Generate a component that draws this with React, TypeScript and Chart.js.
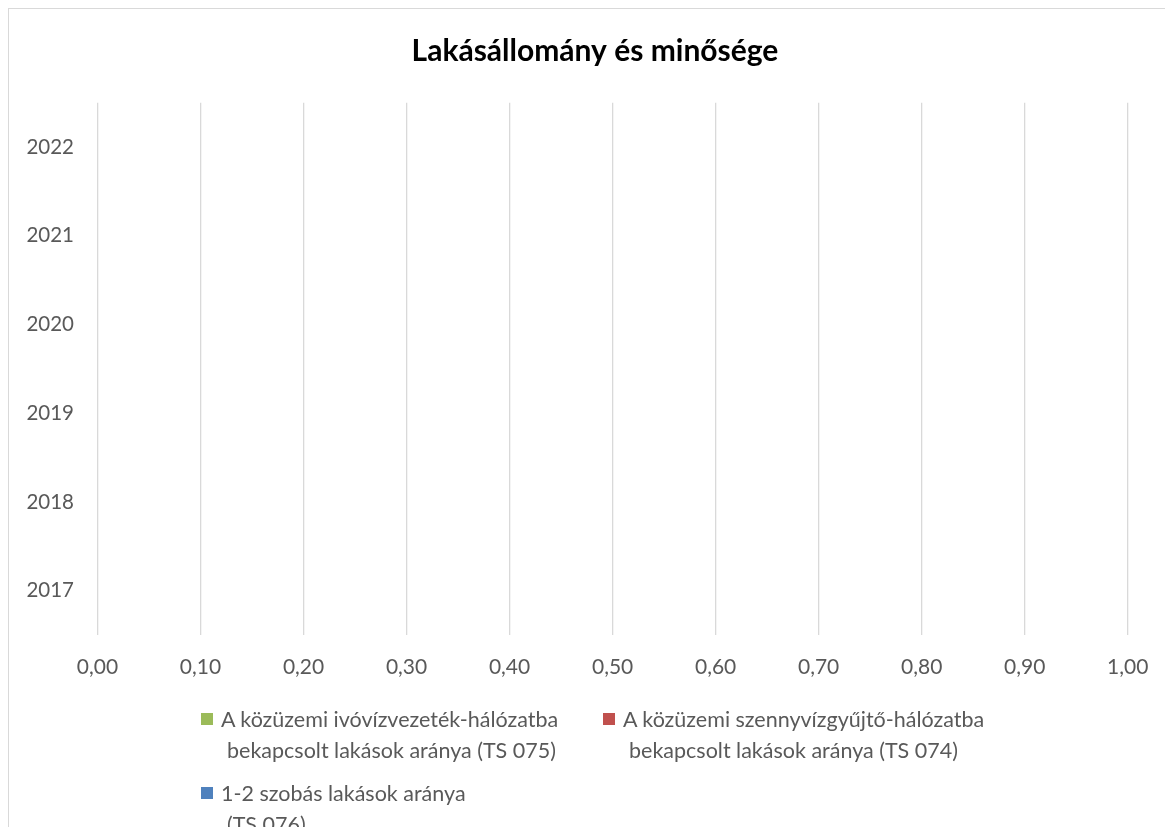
import React, { useEffect, useRef } from "react";
import { Chart, registerables } from "chart.js";

Chart.register(...registerables);

const years = ["2017", "2018", "2019", "2020", "2021", "2022"];
const ivovizValues: (number | null)[] = [null, null, null, null, null, null];
const szennyvizValues: (number | null)[] = [null, null, null, null, null, null];
const szobasValues: (number | null)[] = [null, null, null, null, null, null];

const seriesLabels = [
  ["A közüzemi ivóvízvezeték-hálózatba", "bekapcsolt lakások aránya (TS 075)"],
  ["A közüzemi szennyvízgyűjtő-hálózatba", "bekapcsolt lakások aránya (TS 074)"],
  ["1-2 szobás lakások aránya", "(TS 076)"],
];
const seriesColors = ["#9BBB59", "#C0504D", "#4F81BD"];
const titleText = "Lakásállomány és minősége";
const xMin = 0;
const xMax = 1;
const xStep = 0.1;

const FONT = "Lato, 'Open Sans', sans-serif";
const TEXT = "#595959";

export default function App() {
  const ref = useRef<HTMLCanvasElement | null>(null);

  useEffect(() => {
    if (!ref.current) return;
    const values = [ivovizValues, szennyvizValues, szobasValues];
    const chart = new Chart(ref.current, {
      type: "bar",
      data: {
        labels: years,
        datasets: values.map((v, i) => ({
          label: seriesLabels[i].join(" "),
          data: v,
          backgroundColor: seriesColors[i],
        })),
      },
      options: {
        indexAxis: "y",
        responsive: false,
        animation: false,
        devicePixelRatio: 1,
        layout: { padding: 0 },
        plugins: {
          legend: { display: false },
          tooltip: { enabled: false },
          title: {
            display: true,
            text: titleText,
            color: "#000000",
            font: { family: FONT, size: 30, weight: "bold" },
            padding: { top: 24, bottom: 33.7 },
          },
        },
        scales: {
          x: {
            min: xMin,
            max: xMax,
            ticks: {
              stepSize: xStep,
              color: TEXT,
              font: { family: FONT, size: 21 },
              padding: 20,
              maxRotation: 0,
              autoSkip: false,
              callback: (v: any) => Number(v).toFixed(2).replace(".", ","),
            },
            grid: { color: "#D9D9D9", lineWidth: 1.3, drawTicks: false },
            border: { display: false },
            afterFit: (s: any) => {
              s.height = 192;
            },
          },
          y: {
            reverse: true,
            ticks: {
              color: TEXT,
              font: { family: FONT, size: 20.5 },
              padding: 23.5,
            },
            grid: { display: false, drawTicks: false },
            border: { display: false },
            afterFit: (s: any) => {
              s.width = 88.5;
            },
          },
          yRight: {
            type: "linear",
            position: "right",
            display: true,
            ticks: { display: false },
            grid: { display: false, drawTicks: false },
            border: { display: false },
            afterFit: (s: any) => {
              s.width = 53.3;
            },
          },
        },
      },
    });
    return () => chart.destroy();
  }, []);

  const legendPos = [
    { left: 191.5, top: 695.2 },
    { left: 593.5, top: 695.2 },
    { left: 191.5, top: 768.9 },
  ];

  return (
    <div
      style={{
        position: "fixed",
        left: 8,
        top: 8,
        width: 1157,
        height: 819,
        boxSizing: "border-box",
        borderLeft: "1.5px solid #D9D9D9",
        borderTop: "1.5px solid #D9D9D9",
        overflow: "hidden",
        background: "#fff",
      }}
    >
      <canvas
        ref={ref}
        width={1172}
        height={818}
        style={{ display: "block", width: 1172, height: 818 }}
      />
      {seriesLabels.map((lines, i) => (
        <div
          key={i}
          style={{
            position: "absolute",
            left: legendPos[i].left,
            top: legendPos[i].top,
            display: "flex",
            alignItems: "flex-start",
            fontFamily: FONT,
            fontSize: 21.5,
            lineHeight: "31px",
            color: TEXT,
            whiteSpace: "nowrap",
          }}
        >
          <span
            style={{
              display: "inline-block",
              width: 12,
              height: 12,
              marginTop: 9,
              background: seriesColors[i],
            }}
          />
          <div style={{ marginLeft: 8.5 }}>
            {lines.map((l, j) => (
              <div key={j} style={{ paddingLeft: j > 0 ? 6 : 0 }}>
                {l}
              </div>
            ))}
          </div>
        </div>
      ))}
    </div>
  );
}
